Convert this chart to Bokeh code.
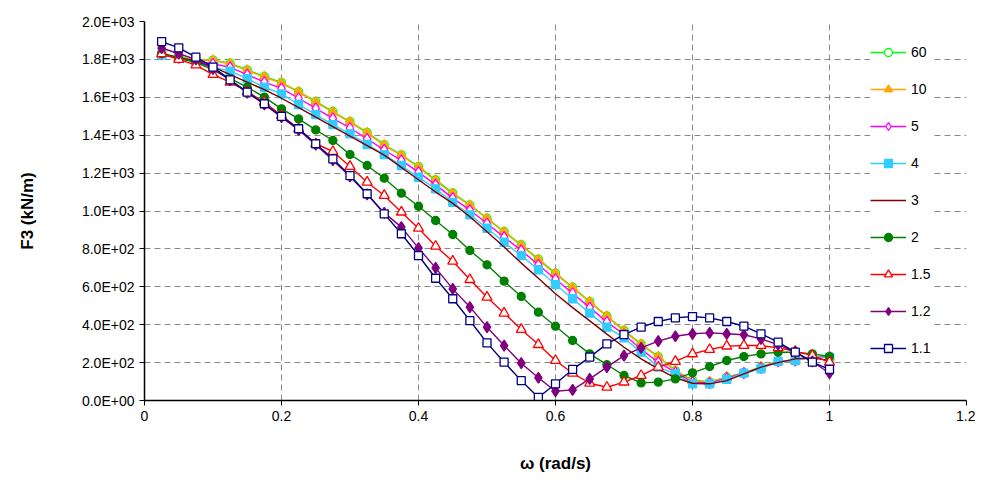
from bokeh.plotting import figure
from bokeh.models import CustomJSTickFormatter, FixedTicker, Legend, LegendItem, Range1d
from bokeh.embed import file_html
from bokeh.resources import INLINE

x = [0.025,0.05,0.075,0.1,0.125,0.15,0.175,0.2,0.225,0.25,0.275,0.3,0.325,0.35,0.375,0.4,0.425,0.45,0.475,0.5,
     0.525,0.55,0.575,0.6,0.625,0.65,0.675,0.7,0.725,0.75,0.775,0.8,0.825,0.85,0.875,0.9,0.925,0.95,0.975,1.0]
s60 = [1830,1812,1800,1796,1780,1745,1710,1678,1630,1578,1525,1472,1415,1350,1296,1235,1165,1095,1032,962,892,822,746,672,598,522,446,370,298,232,158,108,98,124,146,178,208,214,231,230]
s10 = [1828,1810,1798,1794,1777,1741,1706,1675,1627,1574,1521,1469,1411,1346,1293,1231,1160,1090,1029,959,888,818,742,668,595,519,443,366,295,229,155,106,97,123,144,176,206,211,229,229]
s5 = [1826,1808,1793,1777,1758,1720,1680,1647,1595,1542,1489,1438,1381,1322,1267,1205,1138,1068,1005,934,862,792,716,640,566,490,415,348,270,202,148,97,92,118,144,172,206,211,229,229]
s4 = [1824,1805,1788,1759,1738,1698,1653,1618,1562,1509,1456,1407,1351,1298,1240,1178,1117,1046,980,909,835,765,690,612,537,461,387,330,255,176,141,88,88,111,144,167,206,211,229,229]
s3 = [1830,1810,1790,1760,1720,1680,1640,1595,1545,1495,1445,1395,1345,1295,1230,1165,1100,1040,970,890,810,725,645,563,490,420,350,281,220,167,120,91,88,105,140,176,200,220,225,211]
s2 = [1830,1805,1785,1745,1700,1653,1601,1539,1486,1428,1372,1298,1240,1173,1094,1025,950,876,792,716,630,549,466,392,317,246,189,132,93,97,114,146,179,211,232,246,255,255,246,232]
s15 = [1830,1800,1770,1720,1680,1630,1574,1504,1434,1355,1314,1235,1152,1082,994,909,814,735,638,545,461,375,295,211,144,91,70,97,132,176,206,246,269,287,290,290,278,260,237,202]
s12 = [1860,1830,1800,1750,1690,1625,1562,1495,1428,1350,1268,1182,1088,990,915,804,700,589,493,387,290,197,120,49,56,114,176,237,278,313,339,352,357,352,347,325,295,255,206,144]
s11 = [1894,1861,1812,1759,1692,1627,1566,1499,1434,1355,1275,1187,1091,985,880,765,645,537,422,304,202,105,16,88,164,229,299,348,387,417,436,443,436,417,392,352,308,255,202,164]

labels = ["60","10","5","4","3","2","1.5","1.2","1.1"]
data = [s60,s10,s5,s4,s3,s2,s15,s12,s11]
styles = [("#00FF00","circle",False),("#FFA500","triangle",True),("#FF00FF","diamond",False),
          ("#33CCFF","square",True),("#800000",None,True),("#008000","circle",True),
          ("#FF0000","triangle",False),("#800080","diamond",True),("#000080","square",False)]

p = figure(frame_width=822, frame_height=379, output_backend="svg", toolbar_location=None,
           x_range=Range1d(0,1.2), y_range=Range1d(0,2000),
           min_border_left=144, min_border_top=21, min_border_bottom=76, min_border_right=9)
p.outline_line_color = None
p.background_fill_color = "white"

items = []
for lab, ys, (col, mk, filled) in zip(labels, data, styles):
    rs = [p.line(x, ys, line_color=col, line_width=1.4)]
    if mk:
        sz = {"circle": 8, "square": 8, "triangle": 10, "diamond": 11}[mk]
        rs.append(p.scatter(x, ys, marker=mk, size=sz, line_color=col, line_width=1.3,
                            fill_color=col if filled else "white"))
    items.append(LegendItem(label=lab, renderers=rs))

leg = Legend(items=items, location=(726, 42), border_line_color=None,
             background_fill_color="white", background_fill_alpha=1.0,
             label_text_font="Liberation Sans", label_text_font_size="14px",
             label_text_color="black",
             glyph_width=36, glyph_height=20, label_height=20, spacing=17,
             padding=6, margin=0)
p.add_layout(leg)

for g in (p.xgrid, p.ygrid):
    g.grid_line_color = "#888888"
    g.grid_line_dash = "6 4"
    g.grid_line_width = 1
p.xaxis.ticker = FixedTicker(ticks=[0,0.2,0.4,0.6,0.8,1.0,1.2])
p.yaxis.ticker = FixedTicker(ticks=list(range(0,2001,200)))
p.xaxis.formatter = CustomJSTickFormatter(code="var s = tick.toFixed(1); if (s.endsWith('.0')) s = s.slice(0,-2); return s;")
p.yaxis.formatter = CustomJSTickFormatter(code="""
var s = tick.toExponential(1).toUpperCase();
var parts = s.split('E'); var e = parseInt(parts[1]); var sign = e<0?'-':'+';
var a = Math.abs(e); return parts[0] + 'E' + sign + (a<10?'0':'') + a;""")
for ax in (p.xaxis, p.yaxis):
    ax.axis_line_color = "black"
    ax.axis_line_width = 1.5
    ax.major_tick_in = 0
    ax.major_tick_out = 5
    ax.minor_tick_line_color = None
    ax.major_label_text_font = "Liberation Sans"
    ax.major_label_text_font_size = "14px"
    ax.major_label_text_color = "black"
    ax.axis_label_text_font = "Liberation Sans"
    ax.axis_label_text_font_size = "17px"
    ax.axis_label_text_font_style = "bold"
    ax.axis_label_text_color = "black"
p.xaxis.axis_label_standoff = 30
p.yaxis.axis_label_standoff = 42
p.xaxis.axis_label = "ω (rad/s)"
p.yaxis.axis_label = "F3 (kN/m)"

open("out.html", "w").write(file_html(p, INLINE))
